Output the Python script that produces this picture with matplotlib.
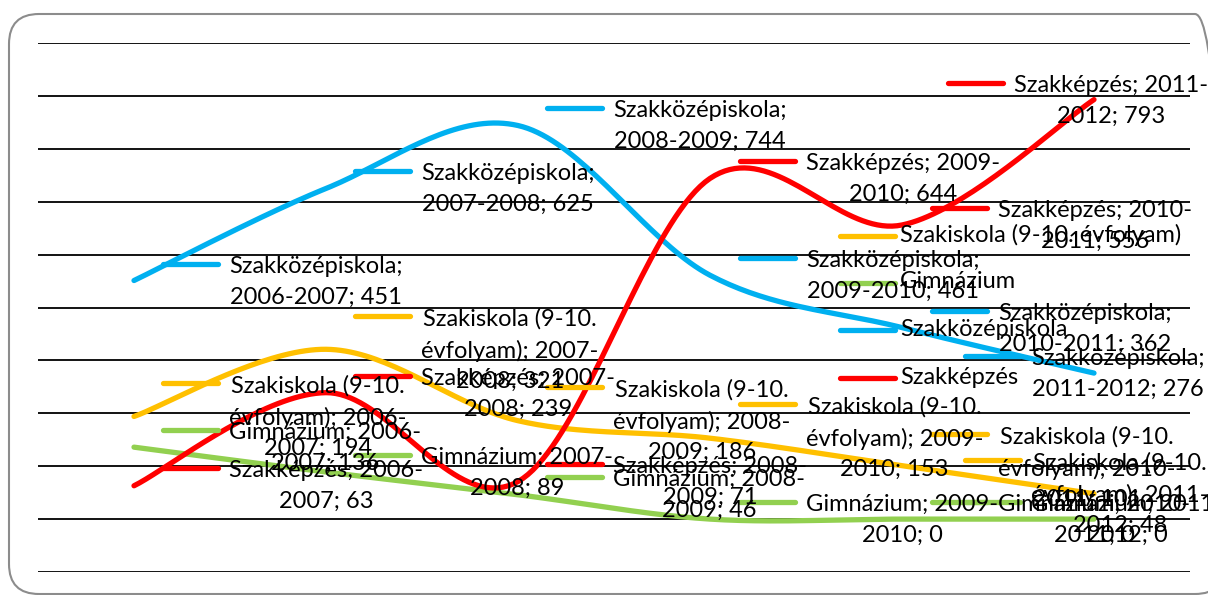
import re
import numpy as np
import matplotlib
matplotlib.use("Agg")
import matplotlib.pyplot as plt
from matplotlib.lines import Line2D
from matplotlib.patches import FancyBboxPatch
from matplotlib.transforms import IdentityTransform

years = ["2006-2007", "2007-2008", "2008-2009", "2009-2010", "2010-2011", "2011-2012"]
szakiskola = [194, 321, 186, 153, 101, 48]
gimnazium = [136, 89, 46, 0, 0, 0]
szakkozep = [451, 625, 744, 461, 362, 276]
szakkepzes = [63, 239, 71, 644, 556, 793]

names = ["Szakiskola (9-10. évfolyam)", "Gimnázium", "Szakközépiskola", "Szakképzés"]
values = [szakiskola, gimnazium, szakkozep, szakkepzes]
colors = ["#FFC000", "#92D050", "#00B0F0", "#FF0000"]

# where Excel put the data label keys (pixel x, pixel y from top)
key_pos = [
    [(163, 383), (355, 316), (547, 387), (740, 404), (932, 434), (965, 460)],
    [(163, 430), (355, 455), (547, 477), (740, 502), (932, 502), (965, 502)],
    [(163, 264), (355, 171), (547, 108), (740, 258), (932, 311), (965, 356)],
    [(163, 468), (355, 376), (547, 464), (740, 161), (932, 208), (948, 83)],
]
legend_pos = [(840, 236), (840, 283), (840, 330), (840, 378)]

W, H = 1208, 595
FONT = "Lato"
FS = 17


def wrap(s, width=17):
    # break after spaces and hyphens, like Excel does in data labels
    parts = re.findall(r"[^ -]*-|[^ -]+ ?", s)
    lines, cur = [], ""
    for p in parts:
        if cur and len((cur + p).rstrip()) > width:
            lines.append(cur.rstrip())
            cur = p
        else:
            cur += p
    lines.append(cur.rstrip())
    return "\n".join(lines)


def smooth(y, n=40):
    # Excel style smoothed line (Catmull-Rom as cubic bezier)
    x = np.arange(len(y), dtype=float)
    y = np.asarray(y, dtype=float)
    px = np.concatenate([[x[0]], x, [x[-1]]])
    py = np.concatenate([[y[0]], y, [y[-1]]])
    xs, ys = [], []
    t = np.linspace(0, 1, n)
    for i in range(len(y) - 1):
        p0 = np.array([px[i + 1], py[i + 1]])
        p3 = np.array([px[i + 2], py[i + 2]])
        c1 = p0 + (np.array([px[i + 2], py[i + 2]]) - np.array([px[i], py[i]])) / 6
        c2 = p3 - (np.array([px[i + 3], py[i + 3]]) - np.array([px[i + 1], py[i + 1]])) / 6
        b = (((1 - t) ** 3)[:, None] * p0 + (3 * (1 - t) ** 2 * t)[:, None] * c1
             + (3 * (1 - t) * t ** 2)[:, None] * c2 + (t ** 3)[:, None] * p3)
        xs.append(b[:, 0])
        ys.append(b[:, 1])
    return np.concatenate(xs), np.concatenate(ys)


def fx(px):
    return px / W


def fy(py):
    return 1 - py / H


fig = plt.figure(figsize=(W / 100, H / 100), dpi=100)
fig.patch.set_facecolor("white")

# rounded chart border, drawn in pixels (right side runs off the picture)
border = FancyBboxPatch((9, H - 594), 1225 - 9, 594 - 14,
                        boxstyle="round,pad=0,rounding_size=30",
                        transform=IdentityTransform(), facecolor="none",
                        edgecolor="#8C8C8C", linewidth=1.5)
fig.patches.append(border)

ax = fig.add_axes([fx(38), fy(572), fx(1190) - fx(38), fy(43) - fy(572)])
ax.set_xlim(-0.5, 5.5)
ax.set_ylim(-100, 900)
for g in range(-100, 1000, 100):
    ax.axhline(g, color="black", lw=1.3, zorder=1)
for s in ax.spines.values():
    s.set_visible(False)
ax.set_xticks([])
ax.set_yticks([])
ax.patch.set_alpha(0)

for vals, c in zip(values, colors):
    sx, sy = smooth(vals)
    ax.plot(sx, sy, color=c, lw=3.8, solid_capstyle="round", zorder=3)

# data labels with legend keys
for vals, c, nm, kp in zip(values, colors, names, key_pos):
    for yr, v, (kx, ky) in zip(years, vals, kp):
        fig.add_artist(Line2D([fx(kx), fx(kx + 55)], [fy(ky), fy(ky)], color=c,
                              lw=3.8, solid_capstyle="round", transform=fig.transFigure))
        fig.text(fx(kx + 66), fy(ky - 8), wrap(f"{nm}; {yr}; {v}"), ha="left", va="top",
                 multialignment="center", fontsize=FS, family=FONT, linespacing=1.55)

# legend
for nm, c, (lx, ly) in zip(names, colors, legend_pos):
    fig.add_artist(Line2D([fx(lx), fx(lx + 55)], [fy(ly), fy(ly)], color=c,
                          lw=3.8, solid_capstyle="round", transform=fig.transFigure))
    fig.text(fx(lx + 60), fy(ly - 1), nm, ha="left", va="center", fontsize=FS, family=FONT)

fig.savefig("out.png", dpi=100)
